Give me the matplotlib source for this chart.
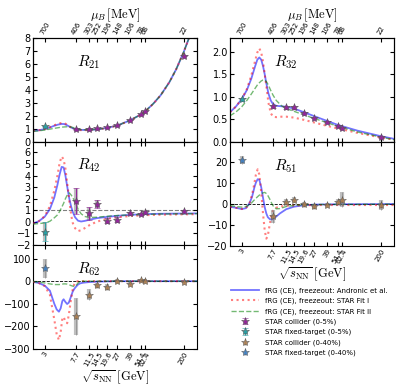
import numpy as np
import matplotlib
matplotlib.use("Agg")
import matplotlib.pyplot as plt
from matplotlib.ticker import FixedLocator, NullLocator

plt.rcParams['mathtext.fontset'] = 'cm'
plt.rcParams['xtick.direction'] = 'in'
plt.rcParams['ytick.direction'] = 'in'

#########################################################################
# tick values

sqrt_s_ticks = [3, 7.7, 11.5, 14.5, 19.6, 27, 39, 54.4, 62.4, 200]
sqrt_s_labels = ["3", "7.7", "11.5", "14.5", "19.6", "27", "39", "54.4", "62.4", "200"]
mu_b_labels = ["700", "406", "303", "252", "196", "148", "106", "78", "68", "22"]

# STAR data
e_collider = [7.7, 11.5, 14.5, 19.6, 27, 39, 54.4, 62.4, 200]
e_fixed = [3.0]

r21_col = [1.0, 1.0, 1.04, 1.12, 1.29, 1.7, 2.13, 2.38, 6.65]
r21_col_err = [0.05, 0.04, 0.04, 0.03, 0.03, 0.03, 0.03, 0.03, 0.05]
r21_fix = [1.21]
r21_fix_err = [0.03]

r32_col = [0.79, 0.77, 0.77, 0.64, 0.54, 0.44, 0.35, 0.32, 0.11]
r32_col_err = [0.03, 0.03, 0.03, 0.02, 0.02, 0.02, 0.02, 0.02, 0.02]
r32_fix = [0.94]
r32_fix_err = [0.03]

r42_col = [1.79, 0.75, 1.53, 0.11, 0.2, 0.75, 0.67, 0.81, 0.9]
r42_col_err = [1.15, 0.55, 0.35, 0.25, 0.25, 0.12, 0.1, 0.12, 0.1]
r42_fix = [-0.84]
r42_fix_err = [0.85]

r51_col = [-5.9, 1.1, 2.1, -0.2, -1.1, -0.3, 1.1, 2.0, -0.5]
r51_col_err = [3.0, 1.5, 1.2, 1.0, 1.3, 0.8, 1.2, 3.5, 2.5]
r51_fix = [20.8]
r51_fix_err = [2.0]

r62_col = [-156, -60, -19, -26, 2, -11, 5, 2, -4]
r62_col_err = [80, 25, 12, 12, 6, 6, 5, 7, 5]
r62_fix = [58]
r62_fix_err = [42]

# fRG curves (blue: Andronic et al., red: STAR Fit I, green: STAR Fit II)
r21_s = [2.1, 2.5, 3.0, 3.5, 4.0, 4.5, 5.0, 5.4, 5.8, 6.3, 7.0, 7.7, 8.5, 9.5, 11.5, 14.5,
         19.6, 27, 39, 54.4, 62.4, 80, 100, 130, 160, 200, 250, 300]
r21_blue = [0.85, 0.9, 1.0, 1.12, 1.25, 1.34, 1.39, 1.38, 1.31, 1.19, 1.05, 0.98, 0.94, 0.93,
            0.93, 0.97, 1.08, 1.27, 1.65, 2.1, 2.35, 2.95, 3.6, 4.6, 5.6, 6.9, 8.4, 9.9]
r21_red = [0.85, 0.9, 1.0, 1.14, 1.29, 1.41, 1.47, 1.45, 1.36, 1.21, 1.03, 0.95, 0.92, 0.91,
           0.92, 0.96, 1.07, 1.26, 1.64, 2.09, 2.34, 2.94, 3.6, 4.6, 5.6, 6.9, 8.4, 9.9]
r21_green = [0.82, 0.86, 0.92, 0.99, 1.05, 1.1, 1.14, 1.16, 1.17, 1.18, 1.12, 1.03, 0.96, 0.94,
             0.93, 0.97, 1.08, 1.27, 1.65, 2.1, 2.35, 2.95, 3.6, 4.6, 5.6, 6.9, 8.4, 9.9]

r32_s = [2.1, 2.5, 3.0, 3.5, 4.0, 4.5, 4.8, 5.1, 5.4, 5.7, 6.0, 6.3, 6.7, 7.2, 7.7, 8.5, 10,
         11.5, 14.5, 19.6, 27, 39, 54.4, 62.4, 100, 200, 300]
r32_blue = [0.66, 0.78, 0.95, 1.15, 1.4, 1.68, 1.82, 1.87, 1.82, 1.68, 1.5, 1.3, 1.08, 0.92,
            0.84, 0.8, 0.79, 0.78, 0.74, 0.66, 0.57, 0.47, 0.38, 0.35, 0.25, 0.13, 0.07]
r32_red = [0.66, 0.78, 0.95, 1.17, 1.47, 1.8, 1.98, 2.07, 1.98, 1.78, 1.5, 1.25, 0.88, 0.64,
           0.56, 0.55, 0.56, 0.56, 0.54, 0.49, 0.43, 0.36, 0.3, 0.28, 0.2, 0.1, 0.05]
r32_green = [0.58, 0.66, 0.78, 0.92, 1.06, 1.19, 1.26, 1.31, 1.35, 1.37, 1.37, 1.34, 1.26, 1.14,
             1.04, 0.92, 0.8, 0.74, 0.68, 0.6, 0.52, 0.43, 0.35, 0.32, 0.22, 0.11, 0.05]

r42_s = [2.1, 2.5, 3.0, 3.5, 4.0, 4.4, 4.7, 5.0, 5.3, 5.6, 6.0, 6.3, 6.7, 7.0, 7.5, 8.2, 9.0,
         10, 11.5, 14.5, 19.6, 27, 39, 62.4, 100, 200, 300]
r42_blue = [-0.15, 0.05, 0.45, 1.1, 2.1, 3.2, 4.1, 4.75, 4.7, 4.0, 2.8, 2.0, 1.25, 0.85, 0.4,
            0.1, 0.03, 0.08, 0.18, 0.32, 0.43, 0.52, 0.6, 0.67, 0.7, 0.72, 0.73]
r42_red = [-0.15, 0.05, 0.5, 1.35, 2.7, 4.0, 5.1, 5.65, 5.4, 4.6, 3.0, 1.8, 0.5, -0.1, -0.55,
           -0.8, -0.72, -0.55, -0.3, 0.02, 0.25, 0.4, 0.5, 0.58, 0.62, 0.65, 0.66]
r42_green = [-0.2, -0.15, -0.1, 0.05, 0.35, 0.6, 0.9, 1.25, 1.6, 2.0, 2.4, 2.5, 2.3, 2.1, 1.7,
             1.1, 0.7, 0.47, 0.38, 0.4, 0.48, 0.55, 0.6, 0.65, 0.68, 0.7, 0.71]

r51_s = [2.1, 2.5, 3.0, 3.4, 3.8, 4.1, 4.4, 4.6, 4.85, 5.1, 5.4, 5.7, 6.0, 6.3, 6.6, 7.0, 7.4,
         7.7, 8.5, 9.5, 11.5, 14.5, 19.6, 27, 39, 62.4, 100, 200, 300]
r51_blue = [-1.3, -1.8, -2.4, -2.0, 0.5, 3.5, 8.0, 10.2, 11.8, 11.5, 8.0, 3.0, -1.5, -4.5, -6.3,
            -7.2, -7.4, -7.2, -6.0, -4.5, -2.5, -1.3, -0.6, -0.3, -0.2, -0.1, -0.1, -0.05, 0.0]
r51_red = [-1.3, -1.8, -2.4, -2.0, 0.5, 4.5, 10.0, 14.0, 16.5, 14.0, 5.5, -4.5, -12.5, -16.5,
           -15.0, -9.5, -5.0, -3.3, -1.8, -1.2, -0.9, -0.7, -0.6, -0.5, -0.5, -0.5, -0.5, -0.5, -0.5]
r51_green = [-0.8, -1.2, -1.5, -1.2, -0.3, 0.8, 2.0, 2.7, 3.5, 4.2, 4.9, 5.3, 5.5, 5.0, 4.0, 2.3,
             0.4, -0.8, -2.3, -2.2, -1.2, -0.7, -0.4, -0.3, -0.2, -0.2, -0.2, -0.1, -0.1]

r62_s = [2.1, 2.5, 3.0, 3.5, 4.0, 4.3, 4.6, 4.85, 5.1, 5.3, 5.6, 5.9, 6.2, 6.6, 7.0, 7.4, 7.7,
         8.2, 8.7, 9.5, 11.5, 14.5, 19.6, 27, 39, 62.4, 100, 200, 300]
r62_blue = [-3, -8, -20, -42, -100, -125, -135, -120, -88, -80, -92, -101, -95, -70, -45, -32,
            -25, -15, -10, -7, -4, -2, -1, 0, 0, 0, 0, 0, 0]
r62_red = [-3, -8, -22, -60, -170, -235, -260, -225, -165, -158, -178, -186, -150, -85, -35, -8,
           -2, 0, 0, 0, 0, 0, 0, 0, 0, 0, 0, 0, 0]
r62_green = [-2, -4, -8, -12, -15, -15, -15, -14, -13, -12, -12, -13, -15, -19, -22, -24, -20,
             -8, -2, 0, 0, 0, 0, 0, 0, 0, 0, 0, 0]

#########################################################################

c_col05 = '#93279a'
c_fix05 = '#2a9fa3'
c_col40 = '#a97b4c'
c_fix40 = '#3a7cc0'

W, H = 415, 388
fig = plt.figure(figsize=(W / 100, H / 100), dpi=100)

def rect(x0, y0, x1, y1):
    return [x0 / W, 1 - y1 / H, (x1 - x0) / W, (y1 - y0) / H]

ax21 = fig.add_axes(rect(33, 38, 197, 142))
ax42 = fig.add_axes(rect(33, 142, 197, 245))
ax62 = fig.add_axes(rect(33, 245, 197, 349))
ax32 = fig.add_axes(rect(230, 38, 394, 142))
ax51 = fig.add_axes(rect(230, 142, 394, 246))

panels = [
    (ax21, r21_s, r21_blue, r21_red, r21_green, r"$R_{21}$", (0, 8), range(0, 9)),
    (ax42, r42_s, r42_blue, r42_red, r42_green, r"$R_{42}$", (-2, 6.9), range(-2, 7)),
    (ax62, r62_s, r62_blue, r62_red, r62_green, r"$R_{62}$", (-300, 160), [-300, -200, -100, 0, 100]),
    (ax32, r32_s, r32_blue, r32_red, r32_green, r"$R_{32}$", (0, 2.3), [0, 0.5, 1.0, 1.5, 2.0]),
    (ax51, r51_s, r51_blue, r51_red, r51_green, r"$R_{51}$", (-20, 29.5), [-20, -10, 0, 10, 20]),
]

handles = {}
for ax, s, blue, red, green, name, ylim, yticks in panels:
    hb, = ax.plot(s, blue, color='b', lw=1.3, alpha=0.55, zorder=3)
    hr, = ax.plot(s, red, color='r', ls=':', lw=1.5, alpha=0.5, zorder=3)
    hg, = ax.plot(s, green, color='g', ls='--', lw=1.0, alpha=0.55, zorder=3)
    handles['blue'], handles['red'], handles['green'] = hb, hr, hg
    ax.set_xscale('log')
    ax.set_xlim(2.1, 300)
    ax.set_ylim(*ylim)
    ax.xaxis.set_major_locator(FixedLocator(sqrt_s_ticks))
    ax.xaxis.set_minor_locator(NullLocator())
    ax.yaxis.set_major_locator(FixedLocator(list(yticks)))
    ax.tick_params(which='both', top=True, right=True, labelsize=7, length=3, pad=1.5)
    ax.set_xticklabels(sqrt_s_labels, rotation=60, fontsize=5)
    ax.text(0.27, 0.77, name, transform=ax.transAxes, fontsize=11, va='center')

def stars(ax, e, v, err, color, thin=True):
    ax.errorbar(e, v, yerr=err, fmt='none', ecolor='grey', elinewidth=3, alpha=0.5, zorder=4)
    if thin:
        h = ax.errorbar(e, v, yerr=err, fmt='*', color=color, ms=6, mec='#555555', mew=0.4,
                        ecolor=color, elinewidth=0.8, capsize=2, zorder=5)
    else:
        h = ax.errorbar(e, v, yerr=err, fmt='*', color=color, ms=6, mec='#555555', mew=0.4,
                        ecolor='grey', elinewidth=0.5, alpha=0.9, zorder=5)
    return h

handles['col05'] = stars(ax21, e_collider, r21_col, r21_col_err, c_col05)
handles['fix05'] = stars(ax21, e_fixed, r21_fix, r21_fix_err, c_fix05)
stars(ax32, e_collider, r32_col, r32_col_err, c_col05)
stars(ax32, e_fixed, r32_fix, r32_fix_err, c_fix05)
stars(ax42, e_collider, r42_col, r42_col_err, c_col05)
stars(ax42, e_fixed, r42_fix, r42_fix_err, c_fix05)
handles['col40'] = stars(ax51, e_collider, r51_col, r51_col_err, c_col40, thin=False)
handles['fix40'] = stars(ax51, e_fixed, r51_fix, r51_fix_err, c_fix40, thin=False)
stars(ax62, e_collider, r62_col, r62_col_err, c_col40, thin=False)
stars(ax62, e_fixed, r62_fix, r62_fix_err, c_fix40, thin=False)

ax42.axhline(1, color='grey', ls='--', lw=0.8, zorder=1)
ax51.axhline(0, color='k', ls='--', lw=0.6, zorder=1)
ax62.axhline(0, color='k', ls='--', lw=0.6, zorder=1)

for ax in [ax21, ax42, ax32]:
    ax.tick_params(labelbottom=False)

xlab = r"$\sqrt{s_{\mathrm{NN}}}\;[\mathrm{GeV}]$"
ax62.set_xlabel(xlab, fontsize=9, labelpad=1)
ax51.set_xlabel(xlab, fontsize=9, labelpad=1)

for ax in [ax21, ax32]:
    at = ax.twiny()
    at.set_xscale('log')
    at.set_xlim(ax.get_xlim())
    at.xaxis.set_major_locator(FixedLocator(sqrt_s_ticks))
    at.xaxis.set_minor_locator(NullLocator())
    at.set_xticklabels(mu_b_labels, rotation=60, fontsize=5)
    at.tick_params(length=3, pad=1.5)
    at.set_xlabel(r"$\mu_B\,[\mathrm{MeV}]$", fontsize=9, labelpad=2)

fig.legend(
    [handles['blue'], handles['red'], handles['green'],
     handles['col05'], handles['fix05'], handles['col40'], handles['fix40']],
    ["fRG (CE), freezeout: Andronic et al.", "fRG (CE), freezeout: STAR Fit I",
     "fRG (CE), freezeout: STAR Fit II", "STAR collider (0-5%)", "STAR fixed-target (0-5%)",
     "STAR collider (0-40%)", "STAR fixed-target (0-40%)"],
    loc='upper left', bbox_to_anchor=(228 / W, 1 - 284 / H), frameon=False,
    fontsize=5, handlelength=4, labelspacing=0.55, handletextpad=0.8, borderpad=0)

fig.savefig("out.png", dpi=100)
